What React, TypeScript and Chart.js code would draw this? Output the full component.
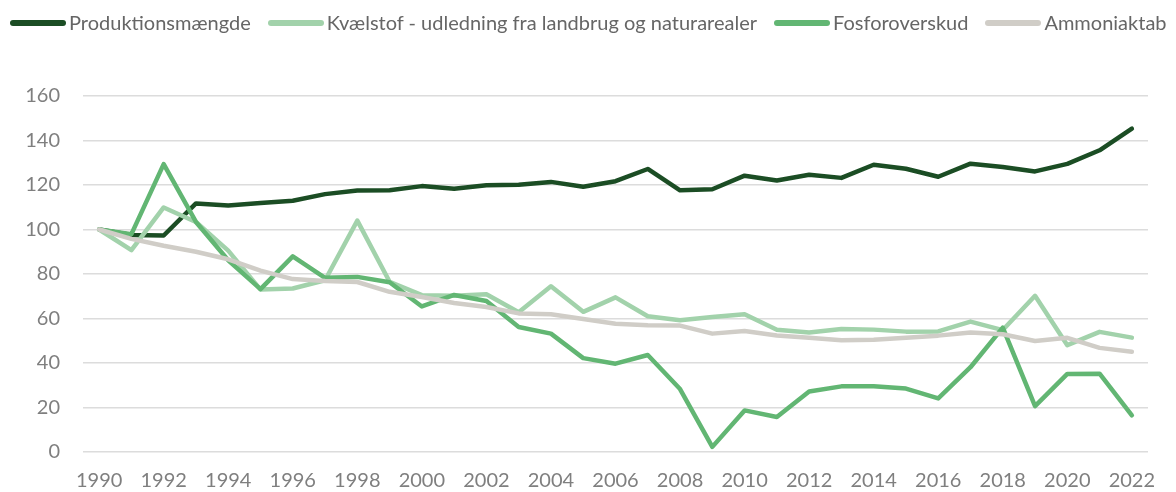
import { useEffect, useRef } from "react";
import { Chart, registerables } from "chart.js";
Chart.register(...registerables);

const years = [
  "1990", "1991", "1992", "1993", "1994", "1995", "1996", "1997", "1998", "1999",
  "2000", "2001", "2002", "2003", "2004", "2005", "2006", "2007", "2008", "2009",
  "2010", "2011", "2012", "2013", "2014", "2015", "2016", "2017", "2018", "2019",
  "2020", "2021", "2022",
];

const produktion = [
  100, 97.5, 97.3, 111.7, 110.8, 111.9, 112.9, 115.9, 117.5, 117.6,
  119.5, 118.3, 119.9, 120.1, 121.4, 119.2, 121.7, 127.2, 117.6, 118.1,
  124.2, 122.0, 124.6, 123.2, 129.1, 127.3, 123.7, 129.6, 128.1, 126.1,
  129.5, 135.6, 145.3,
];

const kvaelstof = [
  100, 90.7, 109.9, 103.4, 90.5, 73.0, 73.5, 77.2, 104.0, 76.5,
  70.5, 70.2, 70.9, 62.8, 74.5, 63.0, 69.5, 61.0, 59.2, 60.7,
  61.9, 54.9, 53.7, 55.3, 55.0, 54.1, 54.2, 58.6, 54.8, 70.2,
  48.0, 54.0, 51.4,
];

const fosfor = [
  100, 97.9, 129.4, 103.4, 86.2, 73.2, 87.9, 78.3, 78.7, 76.3,
  65.4, 70.6, 67.9, 56.2, 53.2, 42.2, 39.7, 43.6, 28.3, 2.3,
  18.7, 15.7, 27.2, 29.5, 29.5, 28.5, 24.1, 38.1, 55.9, 20.6,
  35.1, 35.2, 16.5,
];

const ammoniak = [
  100, 95.8, 92.7, 90.0, 86.6, 81.5, 77.7, 76.8, 76.4, 72.0,
  69.7, 67.0, 65.2, 62.3, 61.9, 59.8, 57.6, 57.0, 56.8, 53.2,
  54.4, 52.4, 51.3, 50.2, 50.5, 51.4, 52.3, 53.7, 52.9, 49.9,
  51.3, 46.8, 45.1,
];

const seriesNames = [
  "Produktionsmængde",
  "Kvælstof - udledning fra landbrug og naturarealer",
  "Fosforoverskud",
  "Ammoniaktab",
];
const seriesColors = ["#1b4d24", "#a2d2ab", "#62b673", "#d0cdc7"];

const FONT = "Lato, 'Open Sans', sans-serif";

export default function App() {
  const ref = useRef<HTMLCanvasElement | null>(null);

  useEffect(() => {
    document.body.style.margin = "0";
    const canvas = ref.current;
    if (!canvas) return;
    const data = [produktion, kvaelstof, fosfor, ammoniak];
    const chart = new Chart(canvas, {
      type: "line",
      data: {
        labels: years,
        datasets: data.map((d, i) => ({
          label: seriesNames[i],
          data: d,
          borderColor: seriesColors[i],
          backgroundColor: seriesColors[i],
          borderWidth: 4.5,
          pointRadius: 0,
          tension: 0,
          borderCapStyle: "round" as const,
          borderJoinStyle: "round" as const,
          order: 3 - i,
        })),
      },
      options: {
        responsive: false,
        animation: false,
        layout: { padding: { top: 96, right: 28, left: 0, bottom: 0 } },
        plugins: {
          legend: { display: false },
          tooltip: { enabled: false },
        },
        scales: {
          x: {
            type: "category",
            offset: true,
            grid: { display: false, drawTicks: false },
            border: { display: false },
            ticks: {
              autoSkip: false,
              maxRotation: 0,
              padding: 17,
              color: "#7f7f7f",
              font: { family: FONT, size: 20 },
              callback: (_v: any, i: number) => (i % 2 === 0 ? years[i] : ""),
            },
            afterFit: (s: any) => {
              s.height = 40;
            },
          },
          y: {
            min: 0,
            max: 160,
            grid: { color: "#dcdcdc", lineWidth: 1.5, drawTicks: false },
            border: { display: false },
            ticks: {
              stepSize: 20,
              padding: 23,
              color: "#7f7f7f",
              font: { family: FONT, size: 20 },
            },
            afterFit: (s: any) => {
              s.width = 83;
            },
          },
        },
      },
    });
    return () => chart.destroy();
  }, []);

  return (
    <div style={{ position: "relative", width: 1176, height: 492 }}>
      <canvas ref={ref} width={1176} height={492} style={{ display: "block", width: 1176, height: 492 }} />
      <div
        style={{
          position: "absolute",
          left: 10,
          top: 10,
          height: 24,
          display: "flex",
          alignItems: "center",
          fontFamily: FONT,
          fontSize: 20,
          color: "#666666",
          whiteSpace: "nowrap",
        }}
      >
        {seriesNames.map((n, i) => (
          <div key={n} style={{ display: "flex", alignItems: "center", marginRight: 17 }}>
            <span
              style={{
                display: "inline-block",
                width: 56,
                height: 5.5,
                borderRadius: 3,
                background: seriesColors[i],
                marginRight: 3,
                marginTop: 2,
              }}
            />
            <span>{n}</span>
          </div>
        ))}
      </div>
    </div>
  );
}
